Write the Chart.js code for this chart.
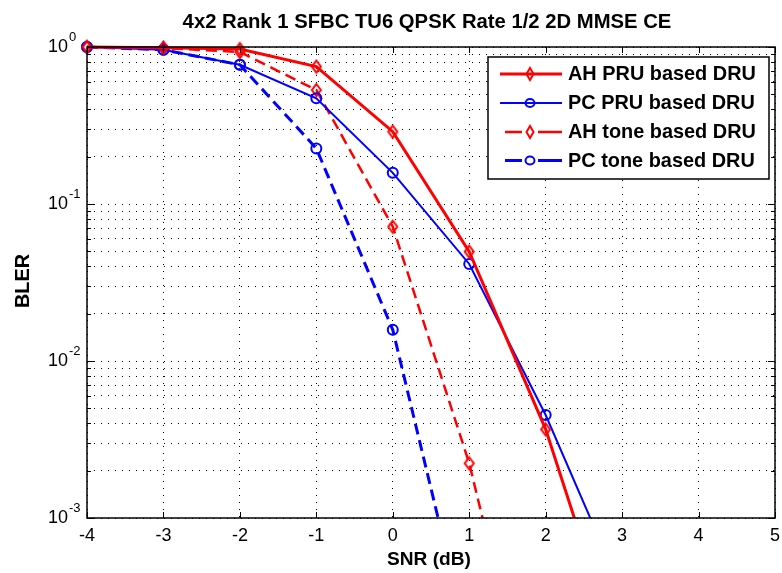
<!DOCTYPE html>
<html>
<head>
<meta charset="utf-8">
<script src="https://cdn.jsdelivr.net/npm/chart.js@4.4.0/dist/chart.umd.min.js"></script>
<style>
  html, body { margin: 0; padding: 0; background: #fff; }
  #wrap { width: 782px; height: 573px; }
</style>
</head>
<body>
<div id="wrap"><canvas id="bler_chart" width="782" height="573"></canvas></div>
<script>
// CHART DATA
const snr = [-4, -3, -2, -1, 0, 1, 2, 3];
const ah_pru = [1.0, 0.99, 0.97, 0.75, 0.289, 0.0497, 0.00367, 0.000115];
const pc_pru = [1.0, 0.96, 0.77, 0.471, 0.158, 0.0415, 0.00453, 0.00034];
const ah_tone = [1.0, 0.985, 0.93, 0.532, 0.0717, 0.00223, 0.000022];
const pc_tone = [1.0, 0.96, 0.77, 0.226, 0.0158, 0.00015];
const series_names = ["AH PRU based DRU", "PC PRU based DRU", "AH tone based DRU", "PC tone based DRU"];
const x_ticks = [-4, -3, -2, -1, 0, 1, 2, 3, 4, 5];
const y_decades = [-3, -2, -1, 0];
const title_text = "4x2 Rank 1 SFBC TU6 QPSK Rate 1/2 2D MMSE CE";
const x_title = "SNR (dB)";
const y_title = "BLER";

const FONT = '"Liberation Sans", Arial, sans-serif';

// y ticks: every 1..9 inside each decade
let y_tick_values = [];
y_decades.forEach((d) => {
  for (let m = 1; m <= 9; m++) {
    if (d === 0 && m > 1) break;
    y_tick_values.push(m * Math.pow(10, d));
  }
});

function toPoints(values) {
  return values.map((v, i) => ({ x: snr[i], y: v }));
}

// tall hollow diamond marker like matlab 'd'
function diamondImage(w, h, color) {
  const c = document.createElement("canvas");
  c.width = w + 4;
  c.height = h + 4;
  const g = c.getContext("2d");
  g.strokeStyle = color;
  g.lineWidth = 2;
  g.beginPath();
  g.moveTo(c.width / 2, 2);
  g.lineTo(c.width - 2, c.height / 2);
  g.lineTo(c.width / 2, c.height - 2);
  g.lineTo(2, c.height / 2);
  g.closePath();
  g.stroke();
  return c;
}
const red_diamond = diamondImage(9, 12, "#ff0000");

const dash_pattern = [11, 6];

const datasets = [
  {
    label: series_names[0],
    data: toPoints(ah_pru),
    borderColor: "#ff0000",
    borderWidth: 3,
    pointStyle: red_diamond,
  },
  {
    label: series_names[1],
    data: toPoints(pc_pru),
    borderColor: "#0000ff",
    borderWidth: 2,
    pointStyle: "circle",
  },
  {
    label: series_names[2],
    data: toPoints(ah_tone),
    borderColor: "#ff0000",
    borderWidth: 2.5,
    borderDash: dash_pattern,
    pointStyle: red_diamond,
  },
  {
    label: series_names[3],
    data: toPoints(pc_tone),
    borderColor: "#0000ff",
    borderWidth: 3,
    borderDash: dash_pattern,
    pointStyle: "circle",
  },
];
datasets.forEach((ds) => {
  ds.fill = false;
  ds.tension = 0;
  ds.pointRadius = 5;
  ds.pointBorderWidth = 2;
  ds.pointBorderColor = ds.borderColor;
  ds.pointBackgroundColor = "rgba(0,0,0,0)";
  ds.clip = { left: 12, top: 12, right: 0, bottom: 0 };
});

function fitSize(ctx, text, weight, width) {
  ctx.font = weight + " 20px " + FONT;
  return (20 * width) / ctx.measureText(text).width;
}

// axes box, inward ticks, labels, legend
const matlabLook = {
  id: "matlabLook",
  afterDraw(chart) {
    const { ctx, chartArea: a, scales } = chart;
    const x = scales.x, y = scales.y;
    ctx.save();

    // inward ticks
    ctx.strokeStyle = "#000";
    ctx.lineWidth = 1;
    ctx.setLineDash([]);
    ctx.beginPath();
    x_ticks.forEach((v) => {
      const px = Math.round(x.getPixelForValue(v)) + 0.5;
      ctx.moveTo(px, a.bottom);
      ctx.lineTo(px, a.bottom - 6);
      ctx.moveTo(px, a.top);
      ctx.lineTo(px, a.top + 6);
    });
    y_tick_values.forEach((v) => {
      const py = Math.round(y.getPixelForValue(v)) + 0.5;
      const m = Math.round(v / Math.pow(10, Math.floor(Math.log10(v) + 1e-9)));
      const len = m === 1 ? 7 : 4;
      ctx.moveTo(a.left, py);
      ctx.lineTo(a.left + len, py);
      ctx.moveTo(a.right, py);
      ctx.lineTo(a.right - len, py);
    });
    ctx.stroke();

    // box
    ctx.lineWidth = 1.5;
    ctx.strokeRect(a.left, a.top, a.right - a.left, a.bottom - a.top);

    // y tick labels with superscripts
    ctx.fillStyle = "#000";
    y_decades.forEach((d) => {
      const py = y.getPixelForValue(Math.pow(10, d));
      ctx.font = "18px " + FONT;
      ctx.textAlign = "right";
      ctx.textBaseline = "middle";
      ctx.fillText("10", 68, py);
      ctx.font = "13px " + FONT;
      ctx.textAlign = "left";
      ctx.fillText(d === 0 ? "0" : "-" + Math.abs(d), 69, py - 10);
    });

    // title
    ctx.textAlign = "center";
    ctx.textBaseline = "middle";
    ctx.font = "bold " + fitSize(ctx, title_text, "bold", 489) + "px " + FONT;
    ctx.fillText(title_text, 427, 22);

    // axis titles
    ctx.font = "bold " + fitSize(ctx, x_title, "bold", 84) + "px " + FONT;
    ctx.fillText(x_title, 429, 560);
    ctx.save();
    ctx.translate(24, 281);
    ctx.rotate(-Math.PI / 2);
    ctx.font = "bold " + fitSize(ctx, y_title, "bold", 54) + "px " + FONT;
    ctx.fillText(y_title, 0, 0);
    ctx.restore();

    // legend
    const lx = 488, ly = 57, lw = 281, lh = 122;
    ctx.fillStyle = "#fff";
    ctx.fillRect(lx, ly, lw, lh);
    ctx.strokeStyle = "#000";
    ctx.lineWidth = 1.5;
    ctx.strokeRect(lx, ly, lw, lh);
    const rows = [74, 103, 132, 160.5];
    const legend_size = fitSize(ctx, series_names[0], "bold", 188);
    chart.data.datasets.forEach((ds, i) => {
      const ry = rows[i];
      ctx.strokeStyle = ds.borderColor;
      ctx.lineWidth = ds.borderWidth;
      ctx.beginPath();
      if (ds.borderDash) {
        ctx.moveTo(505, ry); ctx.lineTo(522, ry);
        ctx.moveTo(538, ry); ctx.lineTo(562, ry);
      } else {
        ctx.moveTo(500, ry); ctx.lineTo(562, ry);
      }
      ctx.stroke();
      ctx.lineWidth = 2;
      ctx.beginPath();
      if (ds.pointStyle === "circle") {
        ctx.ellipse(530, ry, 4.5, 4, 0, 0, Math.PI * 2);
      } else {
        ctx.moveTo(530, ry - 6);
        ctx.lineTo(533.5, ry);
        ctx.lineTo(530, ry + 6);
        ctx.lineTo(526.5, ry);
        ctx.closePath();
      }
      ctx.stroke();
      ctx.fillStyle = "#000";
      ctx.textAlign = "left";
      ctx.textBaseline = "middle";
      ctx.font = "bold " + legend_size + "px " + FONT;
      ctx.fillText(ds.label, 568, ry + 1);
    });

    ctx.restore();
  },
};

const ctx = document.getElementById("bler_chart").getContext("2d");
const my_chart = new Chart(ctx, {
  type: "line",
  data: { datasets: datasets },
  options: {
    responsive: false,
    animation: false,
    devicePixelRatio: 1,
    layout: { padding: { top: 47, left: 0, right: 4, bottom: 0 } },
    plugins: {
      legend: { display: false },
      title: { display: false },
      tooltip: { enabled: false },
    },
    scales: {
      x: {
        type: "linear",
        min: -4,
        max: 5,
        ticks: {
          stepSize: 1,
          color: "#000",
          padding: 7,
          font: { family: FONT, size: 18 },
        },
        grid: { color: "#000", lineWidth: 1, drawTicks: false },
        border: { display: false, dash: [1, 6] },
        afterFit: (s) => {
          s.height = 55;
          s.paddingLeft = 0;
          s.paddingRight = 0;
        },
      },
      y: {
        type: "logarithmic",
        min: 0.001,
        max: 1,
        ticks: { display: false },
        grid: { color: "#000", lineWidth: 1, drawTicks: false },
        border: { display: false, dash: [1, 6] },
        afterBuildTicks: (s) => {
          s.ticks = y_tick_values.map((v) => ({ value: v }));
        },
        afterFit: (s) => {
          s.width = 87;
          s.paddingTop = 0;
          s.paddingBottom = 0;
        },
      },
    },
  },
  plugins: [matlabLook],
});
</script>
</body>
</html>
